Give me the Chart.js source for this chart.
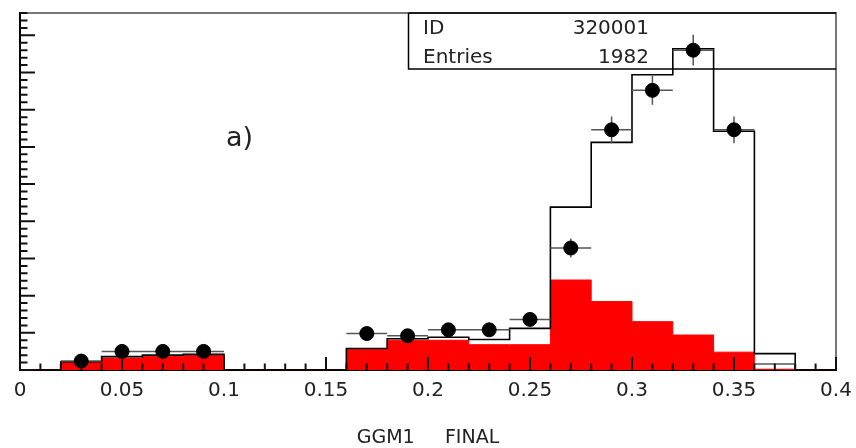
<!DOCTYPE html>
<html>
<head>
<meta charset="utf-8">
<script src="https://cdn.jsdelivr.net/npm/chart.js@4/dist/chart.umd.min.js"></script>
<style>
html, body { margin: 0; padding: 0; background: #fff; }
#wrap { width: 856px; height: 448px; position: relative; }
</style>
</head>
<body>
<div id="wrap"><canvas id="histo"></canvas></div>
<script>
// bins of width 0.02, lower edges
const BIN_WIDTH = 0.02;
const binLow = [0.00, 0.02, 0.04, 0.06, 0.08, 0.10, 0.12, 0.14, 0.16, 0.18,
                0.20, 0.22, 0.24, 0.26, 0.28, 0.30, 0.32, 0.34, 0.36, 0.38];
// open histogram (total)
const mcTotal = [0, 11, 18, 20, 21, 0, 0, 0, 29, 42, 44, 41, 56, 219, 306, 397, 432, 321, 22, 0];
// red filled histogram
const mcRed = [0, 10, 16, 18, 20, 0, 0, 0, 28, 40, 40, 34, 34, 121, 92, 65, 47, 24, 1, 0];
// data points (bin centres)
const dataX = [0.03, 0.05, 0.07, 0.09, 0.17, 0.19, 0.21, 0.23, 0.25, 0.27, 0.29, 0.31, 0.33, 0.35];
const dataY = [12, 25, 25, 25, 49, 46, 54, 54, 68, 164, 323, 376, 430, 323];
// point drawn with its horizontal bar only
const bareX = [0.37];
const bareY = [8];

const xTickLabels = ['0', '0.05', '0.1', '0.15', '0.2', '0.25', '0.3', '0.35', '0.4'];
const statLabels = ['ID', 'Entries'];
const statValues = ['320001', '1982'];
const FONT = 'DejaVu Sans';

function stepPoints(values) {
    const pts = binLow.map((x, i) => ({ x, y: values[i] }));
    pts.push({ x: binLow[binLow.length - 1] + BIN_WIDTH, y: 0 });
    return pts;
}

function isMajorX(v) {
    return Math.abs(v / 0.05 - Math.round(v / 0.05)) < 1e-6;
}

const errorBars = {
    id: 'errorBars',
    afterDatasetDraw(chart, args) {
        if (args.meta.label !== 'mc') return;
        const { ctx, scales: { x, y } } = chart;
        const half = BIN_WIDTH / 2;
        ctx.save();
        ctx.strokeStyle = '#555';
        ctx.lineWidth = 1.5;
        ctx.beginPath();
        dataX.forEach((xv, i) => {
            const yv = dataY[i];
            const err = Math.sqrt(yv);
            const py = y.getPixelForValue(yv);
            const px = x.getPixelForValue(xv);
            ctx.moveTo(x.getPixelForValue(xv - half), py);
            ctx.lineTo(x.getPixelForValue(xv + half), py);
            ctx.moveTo(px, y.getPixelForValue(yv - err));
            ctx.lineTo(px, y.getPixelForValue(yv + err));
        });
        bareX.forEach((xv, i) => {
            const py = y.getPixelForValue(bareY[i]);
            ctx.moveTo(x.getPixelForValue(xv - half), py);
            ctx.lineTo(x.getPixelForValue(xv + half), py);
        });
        ctx.stroke();
        ctx.restore();
    },
};

const frameAndTicks = {
    id: 'frameAndTicks',
    afterDatasetsDraw(chart) {
        const { ctx, chartArea: a, scales: { x, y } } = chart;
        ctx.save();
        // outer frame (top / right)
        ctx.strokeStyle = '#777';
        ctx.lineWidth = 2;
        ctx.beginPath();
        ctx.moveTo(a.left, a.top);
        ctx.lineTo(a.right, a.top);
        ctx.lineTo(a.right, a.bottom);
        ctx.stroke();

        // inward ticks
        ctx.strokeStyle = '#111';
        ctx.lineWidth = 2;
        ctx.beginPath();
        x.ticks.forEach(t => {
            const px = x.getPixelForValue(t.value);
            const len = isMajorX(t.value) ? 13 : 6.5;
            ctx.moveTo(px, a.bottom);
            ctx.lineTo(px, a.bottom - len);
        });
        y.ticks.forEach(t => {
            const py = y.getPixelForValue(t.value);
            const len = t.value % 50 === 0 ? 15 : 7.5;
            ctx.moveTo(a.left, py);
            ctx.lineTo(a.left + len, py);
        });
        ctx.stroke();

        // stats box
        const boxLeft = 408.5;
        const boxBottom = 69;
        ctx.strokeStyle = '#000';
        ctx.lineWidth = 1.5;
        ctx.beginPath();
        ctx.moveTo(boxLeft, a.top);
        ctx.lineTo(boxLeft, boxBottom);
        ctx.lineTo(a.right, boxBottom);
        ctx.moveTo(boxLeft, a.top);
        ctx.lineTo(a.right, a.top);
        ctx.stroke();

        ctx.fillStyle = '#222';
        ctx.font = `20px "${FONT}"`;
        ctx.textBaseline = 'alphabetic';
        statLabels.forEach((lab, i) => {
            const base = 34 + i * 29;
            ctx.textAlign = 'left';
            ctx.fillText(lab, 423, base);
            ctx.textAlign = 'right';
            ctx.fillText(statValues[i], 649, base);
        });

        // panel label
        ctx.font = `27px "${FONT}"`;
        ctx.textAlign = 'left';
        ctx.textBaseline = 'middle';
        ctx.fillText('a)', 226, 139);
        ctx.restore();
    },
};

new Chart(document.getElementById('histo'), {
    type: 'line',
    data: {
        datasets: [
            {
                type: 'scatter',
                label: 'data',
                data: dataX.map((x, i) => ({ x, y: dataY[i] })),
                backgroundColor: '#000',
                borderColor: '#000',
                pointRadius: 7,
                pointHoverRadius: 7,
                showLine: false,
                order: 0,
            },
            {
                label: 'mc',
                data: stepPoints(mcTotal),
                stepped: true,
                borderColor: '#000',
                borderWidth: 1.6,
                pointRadius: 0,
                fill: false,
                order: 1,
            },
            {
                label: 'red',
                data: stepPoints(mcRed),
                stepped: true,
                borderColor: '#ff0000',
                borderWidth: 1,
                backgroundColor: '#ff0000',
                pointRadius: 0,
                fill: 'origin',
                order: 2,
            },
        ],
    },
    options: {
        responsive: true,
        maintainAspectRatio: false,
        animation: false,
        parsing: true,
        layout: { padding: { top: 13, right: 20, left: 0, bottom: 0 } },
        plugins: {
            legend: { display: false },
            tooltip: { enabled: false },
        },
        scales: {
            x: {
                type: 'linear',
                min: 0,
                max: 0.4,
                afterFit(scale) {
                    scale.height = 78;
                    scale.paddingLeft = 0;
                    scale.paddingRight = 0;
                },
                grid: { display: false, drawTicks: false },
                border: { display: true, color: '#000', width: 2 },
                ticks: {
                    stepSize: 0.01,
                    autoSkip: false,
                    maxRotation: 0,
                    padding: 9,
                    color: '#222',
                    font: { family: FONT, size: 20 },
                    callback(value) {
                        if (!isMajorX(value)) return '';
                        return xTickLabels[Math.round(value / 0.05)];
                    },
                },
                title: {
                    display: true,
                    text: 'GGM1     FINAL',
                    color: '#222',
                    font: { family: FONT, size: 19, lineHeight: 1.0 },
                    padding: { top: 0, bottom: 0 },
                },
            },
            y: {
                type: 'linear',
                min: 0,
                max: 480,
                afterFit(scale) { scale.width = 20; },
                grid: { display: false, drawTicks: false },
                border: { display: true, color: '#000', width: 2 },
                ticks: { display: false, stepSize: 10 },
            },
        },
    },
    plugins: [errorBars, frameAndTicks],
});
</script>
</body>
</html>
